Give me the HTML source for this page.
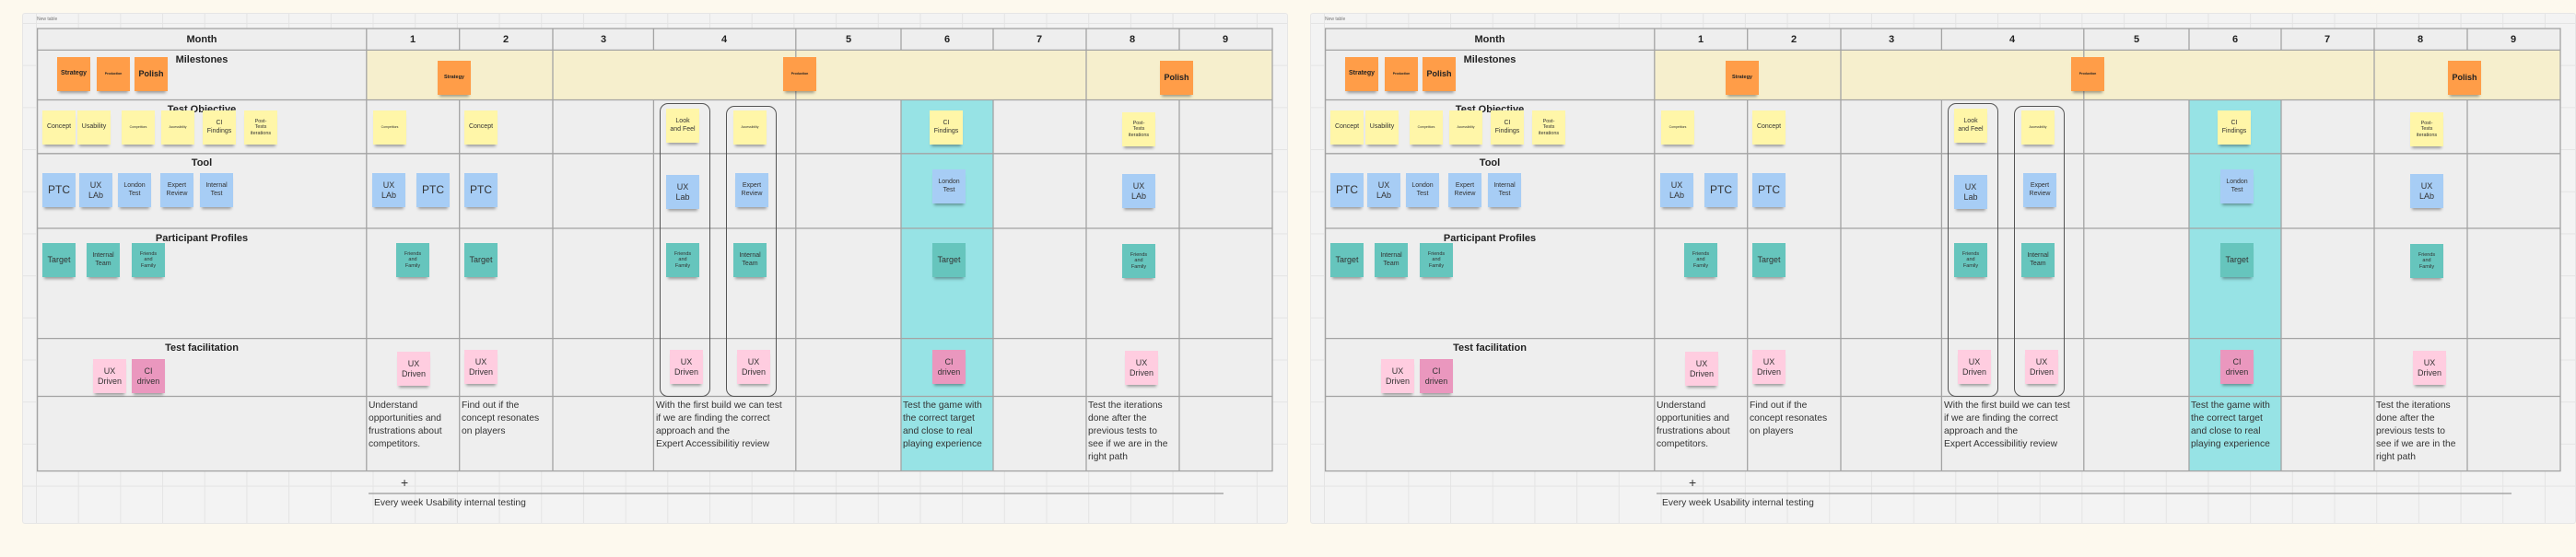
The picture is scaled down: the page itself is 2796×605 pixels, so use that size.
<!DOCTYPE html>
<html><head><meta charset="utf-8"><style>
*{margin:0;padding:0;box-sizing:border-box}
body{width:2796px;height:605px;background:#fdf9ee;position:relative;overflow:hidden;font-family:"Liberation Sans",sans-serif;color:#222}
.P{position:absolute;top:0;left:0;width:1398px;height:605px}
.bg{position:absolute;left:24px;top:14px;width:1374px;height:555px;background-color:#f3f3f3;border:1px solid #e6e6e6;border-radius:3px;
background-image:linear-gradient(to right,#e4e4e4 1px,transparent 1px),linear-gradient(to bottom,#e4e4e4 1px,transparent 1px);background-size:45.7px 45.7px;background-position:14px 10px}
svg{position:absolute;left:0;top:0}
.s{position:absolute;width:36px;height:37px;display:flex;align-items:center;justify-content:center;text-align:center;box-shadow:0 4px 3px -2px rgba(0,0,0,.35);line-height:1.2;color:#333}
.o{background:#ff9d48;font-weight:bold;color:#222}
.y{background:#fff6a8}
.b{background:#a7cdf5}
.t{background:#66c5bd}
.p{background:#ffcde0}
.k{background:#ea97be}
.f12{font-size:12px}.f9{font-size:9px}.f7{font-size:7px}.f6{font-size:5.5px}.f4{font-size:3.5px}
.h{position:absolute;font-weight:bold;font-size:11px;text-align:center;transform:translate(-50%,-50%);white-space:nowrap}
.d{position:absolute;font-size:10.3px;line-height:14.1px;color:#333;white-space:nowrap}
.rr{position:absolute;border:1px solid #555;border-radius:9px}
</style></head><body>

<div class="P" style="left:0">
<div class="bg"></div>
<div style="position:absolute;left:40px;top:18px;font-size:5px;color:#777">New table</div>
<svg width="1398" height="605">
<rect x="40.6" y="31" width="1340.4" height="480.6" fill="#eeeeee"/>
<rect x="397.8" y="54.4" width="983.2" height="54.1" fill="#f6efcd"/>
<rect x="978" y="108.5" width="100" height="403.1" fill="#97e3e5"/>
<g stroke="#a3a3a3" stroke-width="1.3" fill="none">
<rect x="40.6" y="31" width="1340.4" height="480.6"/>
<line x1="40.6" y1="54.4" x2="1381" y2="54.4"/>
<line x1="40.6" y1="108.5" x2="1381" y2="108.5"/>
<line x1="40.6" y1="166.8" x2="1381" y2="166.8"/>
<line x1="40.6" y1="248" x2="1381" y2="248"/>
<line x1="40.6" y1="367.6" x2="1381" y2="367.6"/>
<line x1="40.6" y1="430.5" x2="1381" y2="430.5"/>
<line x1="397.8" y1="31" x2="397.8" y2="511.6"/>
<line x1="498.7" y1="31" x2="498.7" y2="54.4"/><line x1="498.7" y1="108.5" x2="498.7" y2="511.6"/>
<line x1="600" y1="31" x2="600" y2="511.6"/>
<line x1="709.4" y1="31" x2="709.4" y2="54.4"/><line x1="709.4" y1="108.5" x2="709.4" y2="511.6"/>
<line x1="863.8" y1="31" x2="863.8" y2="511.6"/>
<line x1="978" y1="31" x2="978" y2="54.4"/><line x1="978" y1="108.5" x2="978" y2="511.6"/>
<line x1="1078" y1="31" x2="1078" y2="54.4"/><line x1="1078" y1="108.5" x2="1078" y2="511.6"/>
<line x1="1179" y1="31" x2="1179" y2="511.6"/>
<line x1="1280" y1="31" x2="1280" y2="54.4"/><line x1="1280" y1="108.5" x2="1280" y2="511.6"/>
<line x1="400" y1="536" x2="1328" y2="536" stroke="#999"/>
</g>
</svg>
<div class="h" style="left:219px;top:43px">Month</div>
<div class="h" style="left:448px;top:43px">1</div><div class="h" style="left:549px;top:43px">2</div><div class="h" style="left:655px;top:43px">3</div><div class="h" style="left:786px;top:43px">4</div><div class="h" style="left:921px;top:43px">5</div><div class="h" style="left:1028px;top:43px">6</div><div class="h" style="left:1128px;top:43px">7</div><div class="h" style="left:1229px;top:43px">8</div><div class="h" style="left:1330px;top:43px">9</div>
<div class="h" style="left:219px;top:65px">Milestones</div>
<div class="h" style="left:219px;top:119px">Test Objective</div>
<div class="h" style="left:219px;top:177px">Tool</div>
<div class="h" style="left:219px;top:259px">Participant Profiles</div>
<div class="h" style="left:219px;top:378px">Test facilitation</div>
<div class="rr" style="left:716px;top:112px;width:55px;height:319px"></div>
<div class="rr" style="left:788px;top:115px;width:55px;height:316px"></div>

<div class="s o f7" style="left:62px;top:62px">Strategy</div>
<div class="s o f4" style="left:105px;top:62px">Production</div>
<div class="s o f9" style="left:146px;top:62px">Polish</div>
<div class="s o f6" style="left:475px;top:66px">Strategy</div>
<div class="s o f4" style="left:850px;top:62px">Production</div>
<div class="s o f9" style="left:1259px;top:66px">Polish</div>

<div class="s y f7" style="left:46px;top:120px">Concept</div>
<div class="s y f7" style="left:84px;top:120px">Usability</div>
<div class="s y f4" style="left:132px;top:120px">Competitors</div>
<div class="s y f4" style="left:175px;top:120px">Accessibility</div>
<div class="s y f7" style="left:220px;top:120px">CI<br>Findings</div>
<div class="s y f6" style="left:265px;top:120px">Post-<br>Tests<br>iterations</div>
<div class="s y f4" style="left:405px;top:120px">Competitors</div>
<div class="s y f7" style="left:504px;top:120px">Concept</div>
<div class="s y f7" style="left:723px;top:118px">Look<br>and Feel</div>
<div class="s y f4" style="left:796px;top:120px">Accessibility</div>
<div class="s y f7" style="left:1009px;top:120px">CI<br>Findings</div>
<div class="s y f6" style="left:1218px;top:122px">Post-<br>Tests<br>iterations</div>

<div class="s b f12" style="left:46px;top:188px">PTC</div>
<div class="s b f9" style="left:86px;top:188px">UX<br>LAb</div>
<div class="s b f7" style="left:128px;top:188px">London<br>Test</div>
<div class="s b f7" style="left:174px;top:188px">Expert<br>Review</div>
<div class="s b f7" style="left:217px;top:188px">Internal<br>Test</div>
<div class="s b f9" style="left:404px;top:188px">UX<br>LAb</div>
<div class="s b f12" style="left:452px;top:188px">PTC</div>
<div class="s b f12" style="left:504px;top:188px">PTC</div>
<div class="s b f9" style="left:723px;top:190px">UX<br>Lab</div>
<div class="s b f7" style="left:798px;top:188px">Expert<br>Review</div>
<div class="s b f7" style="left:1012px;top:184px">London<br>Test</div>
<div class="s b f9" style="left:1218px;top:189px">UX<br>LAb</div>

<div class="s t f9" style="left:46px;top:264px">Target</div>
<div class="s t f7" style="left:94px;top:264px">Internal<br>Team</div>
<div class="s t f6" style="left:143px;top:264px">Friends<br>and<br>Family</div>
<div class="s t f6" style="left:430px;top:264px">Friends<br>and<br>Family</div>
<div class="s t f9" style="left:504px;top:264px">Target</div>
<div class="s t f6" style="left:723px;top:264px">Friends<br>and<br>Family</div>
<div class="s t f7" style="left:796px;top:264px">Internal<br>Team</div>
<div class="s t f9" style="left:1012px;top:264px">Target</div>
<div class="s t f6" style="left:1218px;top:265px">Friends<br>and<br>Family</div>

<div class="s p f9" style="left:101px;top:390px">UX<br>Driven</div>
<div class="s k f9" style="left:143px;top:390px">CI<br>driven</div>
<div class="s p f9" style="left:431px;top:382px">UX<br>Driven</div>
<div class="s p f9" style="left:504px;top:380px">UX<br>Driven</div>
<div class="s p f9" style="left:727px;top:380px">UX<br>Driven</div>
<div class="s p f9" style="left:800px;top:380px">UX<br>Driven</div>
<div class="s k f9" style="left:1012px;top:380px">CI<br>driven</div>
<div class="s p f9" style="left:1221px;top:381px">UX<br>Driven</div>

<div class="d" style="left:400px;top:434px">Understand<br>opportunities and<br>frustrations about<br>competitors.</div>
<div class="d" style="left:501px;top:434px">Find out if the<br>concept resonates<br>on players</div>
<div class="d" style="left:712px;top:434px">With the first build we can test<br>if we are finding the correct<br>approach and the<br>Expert Accessibilitiy review</div>
<div class="d" style="left:980px;top:434px">Test the game with<br>the correct target<br>and close to real<br>playing experience</div>
<div class="d" style="left:1181px;top:434px">Test the iterations<br>done after the<br>previous tests to<br>see if we are in the<br>right path</div>
<div style="position:absolute;left:435px;top:516px;font-size:14px;color:#333">+</div>
<div class="d" style="left:406px;top:540px;font-size:10.3px">Every week Usability internal testing</div>
</div>

<div class="P" style="left:1398px">
<div class="bg"></div>
<div style="position:absolute;left:40px;top:18px;font-size:5px;color:#777">New table</div>
<svg width="1398" height="605">
<rect x="40.6" y="31" width="1340.4" height="480.6" fill="#eeeeee"/>
<rect x="397.8" y="54.4" width="983.2" height="54.1" fill="#f6efcd"/>
<rect x="978" y="108.5" width="100" height="403.1" fill="#97e3e5"/>
<g stroke="#a3a3a3" stroke-width="1.3" fill="none">
<rect x="40.6" y="31" width="1340.4" height="480.6"/>
<line x1="40.6" y1="54.4" x2="1381" y2="54.4"/>
<line x1="40.6" y1="108.5" x2="1381" y2="108.5"/>
<line x1="40.6" y1="166.8" x2="1381" y2="166.8"/>
<line x1="40.6" y1="248" x2="1381" y2="248"/>
<line x1="40.6" y1="367.6" x2="1381" y2="367.6"/>
<line x1="40.6" y1="430.5" x2="1381" y2="430.5"/>
<line x1="397.8" y1="31" x2="397.8" y2="511.6"/>
<line x1="498.7" y1="31" x2="498.7" y2="54.4"/><line x1="498.7" y1="108.5" x2="498.7" y2="511.6"/>
<line x1="600" y1="31" x2="600" y2="511.6"/>
<line x1="709.4" y1="31" x2="709.4" y2="54.4"/><line x1="709.4" y1="108.5" x2="709.4" y2="511.6"/>
<line x1="863.8" y1="31" x2="863.8" y2="511.6"/>
<line x1="978" y1="31" x2="978" y2="54.4"/><line x1="978" y1="108.5" x2="978" y2="511.6"/>
<line x1="1078" y1="31" x2="1078" y2="54.4"/><line x1="1078" y1="108.5" x2="1078" y2="511.6"/>
<line x1="1179" y1="31" x2="1179" y2="511.6"/>
<line x1="1280" y1="31" x2="1280" y2="54.4"/><line x1="1280" y1="108.5" x2="1280" y2="511.6"/>
<line x1="400" y1="536" x2="1328" y2="536" stroke="#999"/>
</g>
</svg>
<div class="h" style="left:219px;top:43px">Month</div>
<div class="h" style="left:448px;top:43px">1</div><div class="h" style="left:549px;top:43px">2</div><div class="h" style="left:655px;top:43px">3</div><div class="h" style="left:786px;top:43px">4</div><div class="h" style="left:921px;top:43px">5</div><div class="h" style="left:1028px;top:43px">6</div><div class="h" style="left:1128px;top:43px">7</div><div class="h" style="left:1229px;top:43px">8</div><div class="h" style="left:1330px;top:43px">9</div>
<div class="h" style="left:219px;top:65px">Milestones</div>
<div class="h" style="left:219px;top:119px">Test Objective</div>
<div class="h" style="left:219px;top:177px">Tool</div>
<div class="h" style="left:219px;top:259px">Participant Profiles</div>
<div class="h" style="left:219px;top:378px">Test facilitation</div>
<div class="rr" style="left:716px;top:112px;width:55px;height:319px"></div>
<div class="rr" style="left:788px;top:115px;width:55px;height:316px"></div>

<div class="s o f7" style="left:62px;top:62px">Strategy</div>
<div class="s o f4" style="left:105px;top:62px">Production</div>
<div class="s o f9" style="left:146px;top:62px">Polish</div>
<div class="s o f6" style="left:475px;top:66px">Strategy</div>
<div class="s o f4" style="left:850px;top:62px">Production</div>
<div class="s o f9" style="left:1259px;top:66px">Polish</div>

<div class="s y f7" style="left:46px;top:120px">Concept</div>
<div class="s y f7" style="left:84px;top:120px">Usability</div>
<div class="s y f4" style="left:132px;top:120px">Competitors</div>
<div class="s y f4" style="left:175px;top:120px">Accessibility</div>
<div class="s y f7" style="left:220px;top:120px">CI<br>Findings</div>
<div class="s y f6" style="left:265px;top:120px">Post-<br>Tests<br>iterations</div>
<div class="s y f4" style="left:405px;top:120px">Competitors</div>
<div class="s y f7" style="left:504px;top:120px">Concept</div>
<div class="s y f7" style="left:723px;top:118px">Look<br>and Feel</div>
<div class="s y f4" style="left:796px;top:120px">Accessibility</div>
<div class="s y f7" style="left:1009px;top:120px">CI<br>Findings</div>
<div class="s y f6" style="left:1218px;top:122px">Post-<br>Tests<br>iterations</div>

<div class="s b f12" style="left:46px;top:188px">PTC</div>
<div class="s b f9" style="left:86px;top:188px">UX<br>LAb</div>
<div class="s b f7" style="left:128px;top:188px">London<br>Test</div>
<div class="s b f7" style="left:174px;top:188px">Expert<br>Review</div>
<div class="s b f7" style="left:217px;top:188px">Internal<br>Test</div>
<div class="s b f9" style="left:404px;top:188px">UX<br>LAb</div>
<div class="s b f12" style="left:452px;top:188px">PTC</div>
<div class="s b f12" style="left:504px;top:188px">PTC</div>
<div class="s b f9" style="left:723px;top:190px">UX<br>Lab</div>
<div class="s b f7" style="left:798px;top:188px">Expert<br>Review</div>
<div class="s b f7" style="left:1012px;top:184px">London<br>Test</div>
<div class="s b f9" style="left:1218px;top:189px">UX<br>LAb</div>

<div class="s t f9" style="left:46px;top:264px">Target</div>
<div class="s t f7" style="left:94px;top:264px">Internal<br>Team</div>
<div class="s t f6" style="left:143px;top:264px">Friends<br>and<br>Family</div>
<div class="s t f6" style="left:430px;top:264px">Friends<br>and<br>Family</div>
<div class="s t f9" style="left:504px;top:264px">Target</div>
<div class="s t f6" style="left:723px;top:264px">Friends<br>and<br>Family</div>
<div class="s t f7" style="left:796px;top:264px">Internal<br>Team</div>
<div class="s t f9" style="left:1012px;top:264px">Target</div>
<div class="s t f6" style="left:1218px;top:265px">Friends<br>and<br>Family</div>

<div class="s p f9" style="left:101px;top:390px">UX<br>Driven</div>
<div class="s k f9" style="left:143px;top:390px">CI<br>driven</div>
<div class="s p f9" style="left:431px;top:382px">UX<br>Driven</div>
<div class="s p f9" style="left:504px;top:380px">UX<br>Driven</div>
<div class="s p f9" style="left:727px;top:380px">UX<br>Driven</div>
<div class="s p f9" style="left:800px;top:380px">UX<br>Driven</div>
<div class="s k f9" style="left:1012px;top:380px">CI<br>driven</div>
<div class="s p f9" style="left:1221px;top:381px">UX<br>Driven</div>

<div class="d" style="left:400px;top:434px">Understand<br>opportunities and<br>frustrations about<br>competitors.</div>
<div class="d" style="left:501px;top:434px">Find out if the<br>concept resonates<br>on players</div>
<div class="d" style="left:712px;top:434px">With the first build we can test<br>if we are finding the correct<br>approach and the<br>Expert Accessibilitiy review</div>
<div class="d" style="left:980px;top:434px">Test the game with<br>the correct target<br>and close to real<br>playing experience</div>
<div class="d" style="left:1181px;top:434px">Test the iterations<br>done after the<br>previous tests to<br>see if we are in the<br>right path</div>
<div style="position:absolute;left:435px;top:516px;font-size:14px;color:#333">+</div>
<div class="d" style="left:406px;top:540px;font-size:10.3px">Every week Usability internal testing</div>
</div>
</body></html>
